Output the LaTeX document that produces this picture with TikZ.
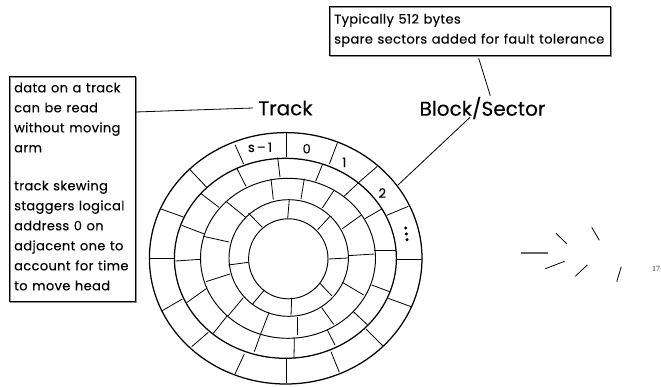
\documentclass[tikz,border=0pt]{standalone}
\usepackage{fontspec}
\setmainfont{Poppins}
\newfontfamily\pagefont{Liberation Serif}
\newfontfamily\notefont[LetterSpace=2.8,WordSpace=1.2,FakeBold=0.12]{Poppins}
\newfontfamily\titlefont[FakeBold=0.12]{Poppins}
\tikzset{
  note/.style={font=\notefont\fontsize{13}{20}\selectfont, align=left, inner sep=0pt, anchor=north west},
  frame/.style={draw=black, line width=0.9pt},
  shade/.style={draw=black!45, line width=0.9pt},
  title/.style={font=\titlefont\fontsize{20}{24}\selectfont, inner sep=0pt},
  sec/.style={font=\titlefont\fontsize{13}{15}\selectfont, inner sep=0pt},
  leader/.style={line width=0.8pt},
  ringA/.style={line width=1.25pt},
  ringB/.style={line width=0.95pt},
  spoke/.style={line width=0.8pt},
  tick/.style={line width=0.8pt}
}
\begin{document}
\begin{tikzpicture}[x=1pt,y=-1pt]
\useasboundingbox (0,0) rectangle (661,386);
% boxes
\draw[shade] (10,77) rectangle (136.4,302.4);
\draw[shade] (330,7) rectangle (611,56);
\draw[frame] (9.3,76.3) rectangle (135.7,301.7);
\draw[frame] (329.3,6.3) rectangle (610.3,55.3);
\node[note] (leftnote) at (14,82.5) {data on a track\\can be read\\without moving\\arm\\[18pt]track skewing\\staggers logical\\address 0 on\\adjacent one to\\account for time\\to move head};
\node[note] (topnote) at (334,13.5) {Typically 512 bytes\\spare sectors added for fault tolerance};
% titles
\node[title] (track) at (285.5,108) {Track};
\node[title] (block) at (482.5,108) {Block/Sector};
\coordinate (leftout) at (135.7,112);
\coordinate (trackin) at (253,108);
\coordinate (topout) at (478.7,58.3);
\coordinate (blocktop) at (490.3,95.7);
\coordinate (blockbot) at (470,117.3);
\coordinate (sector) at (398,185);
\draw[leader] (leftout) -- (trackin);
\draw[leader] (topout) -- (blocktop);
\draw[leader] (blockbot) -- (sector);
% rings
\draw[ringA] (285.7,258.3) ellipse [x radius=136.3, y radius=125.7];
\draw[ringA] (285.4,258.3) ellipse [x radius=111, y radius=100];
\draw[ringB] (288,258.3) ellipse [x radius=87.5, y radius=80];
\draw[ringB] (288.7,258) ellipse [x radius=59.7, y radius=58.3];
\draw[ringB] (288.3,258.8) ellipse [x radius=39.7, y radius=40];
% upper left spokes
\begin{scope}[shift={(145,128)},scale=0.33333]
\foreach \a/\b/\c/\d in {425/15/425/88,270/50/296/108,135/125/185/178,48/243/115/267,12/392/88/392,
  398/88/405/147,275/120/303/175,168/197/222/238,110/292/178/318,
  378/152/385/215,243/220/302/268,175/325/252/342,
  310/255/352/298}
  \draw[spoke] (\a,\b) -- (\c,\d);
\end{scope}
% upper right spokes
\begin{scope}[shift={(285,128)},scale=0.33333]
\foreach \a/\b/\c/\d in {157/45/133/108,277/115/225/160,370/235/305/262,410/395/335/395,
  113/108/92/160,225/160/177/205,290/243/240/272,268/368/332/368,
  58/152/48/213,147/187/112/240,228/262/172/302,190/383/268/378,
  13/213/8/272,135/265/98/305,130/393/188/390}
  \draw[spoke] (\a,\b) -- (\c,\d);
\end{scope}
% lower left spokes
\begin{scope}[shift={(145,255)},scale=0.33333]
\foreach \a/\b/\c/\d in {52/167/112/132,140/275/190/232,270/357/298/297,425/385/425/313,
  92/18/165/13,125/143/185/100,205/235/247/182,328/290/347/237,
  183/80/255/57,250/182/295/128,347/237/372/173,
  250/30/310/22,322/148/358/105}
  \draw[spoke] (\a,\b) -- (\c,\d);
\end{scope}
% lower right spokes
\begin{scope}[shift={(285,255)},scale=0.33333]
\foreach \a/\b/\c/\d in {378/155/310/130,293/272/243/222,163/352/138/290,
  314/110/260/90,248/210/205/170,150/270/127/225,27/310/28/247,
  236/120/172/82,146/208/110/158,37/240/37/187,
  140/122/105/85,20/128/18/182}
  \draw[spoke] (\a,\b) -- (\c,\d);
\end{scope}
% sector labels
\node[sec] (lsm) at (260,147.3) {s\,–\,1};
\node[sec] (lz) at (306.7,148.7) {0};
\node[sec] (lo) at (344.3,162.3) {1};
\node[sec] (lt) at (382.3,193) {2};
\fill (405.7,228) circle (1.7) (406.3,234) circle (1.7) (407,239.7) circle (1.7);
% loose ticks
\draw[tick,black!60,line width=1.2pt] (521.3,253) -- (547.7,253);
\draw[tick] (556,233.3) -- (566.7,243.7);
\draw[tick] (591.7,227.3) -- (599.3,240.3);
\draw[tick] (545.3,268.7) -- (564.7,261.3);
\draw[tick] (575.3,276.3) -- (587.3,265);
\draw[tick] (616.7,281.7) -- (621.3,266.7);
\node[font=\pagefont\fontsize{8}{9}\selectfont, text=black!85, inner sep=0pt] (page) at (656,269) {17};
\end{tikzpicture}
\end{document}
